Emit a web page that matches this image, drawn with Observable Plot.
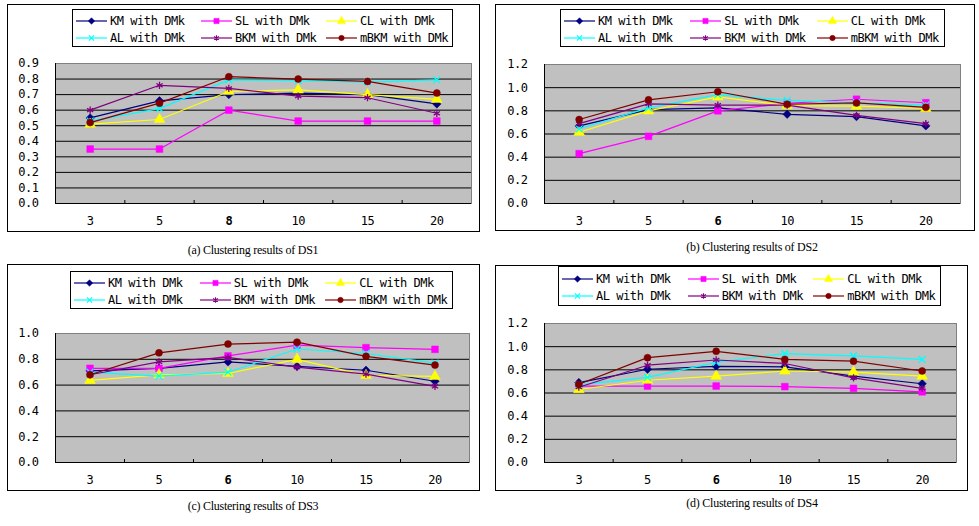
<!DOCTYPE html>
<html><head><meta charset="utf-8">
<script src="https://cdn.jsdelivr.net/npm/d3@7"></script>
<script src="https://cdn.jsdelivr.net/npm/@observablehq/plot@0.6"></script>
<style>
body{margin:0;background:#fff;width:979px;height:526px;position:relative;overflow:hidden;font-family:"DejaVu Sans Mono",monospace;}
.frame{position:absolute;border:1px solid #000;box-sizing:border-box;}
.legend{position:absolute;border:1px solid #000;background:#fff;box-sizing:border-box;}
.item{position:absolute;display:flex;align-items:center;font-size:12px;letter-spacing:-0.45px;white-space:nowrap;height:12px;}
.item svg{margin-right:3px;}
.caption{position:absolute;font-family:"Liberation Serif","Times New Roman",serif;font-size:12px;letter-spacing:-0.25px;transform:translateX(-50%);white-space:nowrap;line-height:14px;}
.plotwrap{position:absolute;}
.plotwrap text{letter-spacing:-0.45px;}
</style></head><body>
<script>
// ---- series definitions ----
const seriesNames = ["KM with DMk","SL with DMk","CL with DMk","AL with DMk","BKM with DMk","mBKM with DMk"];
const seriesColors = ["#000080","#ff00ff","#ffff00","#00ffff","#800080","#800000"];
const seriesSymbols = ["diamond2","square","triangle","times","asterisk","circle"];
const seriesFilled = [true,true,true,false,false,true];

// ---- categories ----
const catsDS1 = ["3","5","8","10","15","20"];
const catsDS2 = ["3","5","6","10","15","20"];
const catsDS3 = ["3","5","6","10","15","20"];
const catsDS4 = ["3","5","6","10","15","20"];
const boldDS1 = "8", boldDS2 = "6", boldDS3 = "6", boldDS4 = "6";

// ---- y ticks ----
const yTicksDS1 = [0,0.1,0.2,0.3,0.4,0.5,0.6,0.7,0.8,0.9];
const yTicksDS2 = [0,0.2,0.4,0.6,0.8,1.0,1.2];
const yTicksDS3 = [0,0.2,0.4,0.6,0.8,1.0];
const yTicksDS4 = [0,0.2,0.4,0.6,0.8,1.0,1.2];

// ---- DS1 values ----
const ds1KM   = [0.55,0.66,0.70,0.71,0.70,0.64];
const ds1SL   = [0.35,0.35,0.60,0.53,0.53,0.53];
const ds1CL   = [0.51,0.54,0.72,0.73,0.70,0.67];
const ds1AL   = [0.53,0.61,0.795,0.79,0.78,0.795];
const ds1BKM  = [0.60,0.76,0.74,0.69,0.68,0.58];
const ds1mBKM = [0.52,0.645,0.815,0.80,0.785,0.71];

// ---- DS2 values ----
const ds2KM   = [0.67,0.81,0.825,0.77,0.75,0.67];
const ds2SL   = [0.43,0.58,0.80,0.865,0.90,0.87];
const ds2CL   = [0.615,0.80,0.92,0.845,0.84,0.82];
const ds2AL   = [0.645,0.825,0.94,0.89,0.87,0.85];
const ds2BKM  = [0.69,0.86,0.85,0.85,0.76,0.69];
const ds2mBKM = [0.725,0.895,0.965,0.857,0.868,0.83];

// ---- DS3 values ----
const ds3KM   = [0.71,0.73,0.78,0.745,0.715,0.63];
const ds3SL   = [0.73,0.73,0.826,0.91,0.89,0.877];
const ds3CL   = [0.637,0.68,0.69,0.80,0.675,0.667];
const ds3AL   = [0.70,0.67,0.70,0.88,0.845,0.77];
const ds3BKM  = [0.68,0.78,0.815,0.74,0.685,0.59];
const ds3mBKM = [0.68,0.85,0.918,0.933,0.823,0.755];

// ---- DS4 values ----
const ds4KM   = [0.69,0.805,0.83,0.826,0.745,0.68];
const ds4SL   = [0.66,0.66,0.66,0.655,0.64,0.61];
const ds4CL   = [0.63,0.71,0.745,0.79,0.78,0.745];
const ds4AL   = [0.67,0.735,0.865,0.94,0.92,0.89];
const ds4BKM  = [0.65,0.84,0.885,0.855,0.73,0.64];
const ds4mBKM = [0.675,0.905,0.96,0.89,0.875,0.79];

// ---- layout (page px) ----
const panels = [
  {cats:catsDS1, bold:boldDS1, yTicks:yTicksDS1, series:[ds1KM,ds1SL,ds1CL,ds1AL,ds1BKM,ds1mBKM],
   frame:[7,4,479,231], plot:[55,63,471,203], legend:[72,9,453,47], caption:[253,250], text:"(a) Clustering results of DS1"},
  {cats:catsDS2, bold:boldDS2, yTicks:yTicksDS2, series:[ds2KM,ds2SL,ds2CL,ds2AL,ds2BKM,ds2mBKM],
   frame:[495,4,974,230], plot:[544,64,960,203], legend:[560,9,945,47], caption:[752,247], text:"(b) Clustering results of DS2"},
  {cats:catsDS3, bold:boldDS3, yTicks:yTicksDS3, series:[ds3KM,ds3SL,ds3CL,ds3AL,ds3BKM,ds3mBKM],
   frame:[7,264,479,490], plot:[55,333,469,462], legend:[70,271,453,309], caption:[253,506], text:"(c) Clustering results of DS3"},
  {cats:catsDS4, bold:boldDS4, yTicks:yTicksDS4, series:[ds4KM,ds4SL,ds4CL,ds4AL,ds4BKM,ds4mBKM],
   frame:[495,265,967,490], plot:[544,323,956,462], legend:[558,266,941,306], caption:[752,503], text:"(d) Clustering results of DS4"}
];

const d3sym = {diamond2:d3.symbolDiamond2, square:d3.symbolSquare, triangle:d3.symbolTriangle,
               times:d3.symbolTimes, asterisk:d3.symbolAsterisk, circle:d3.symbolCircle};
const symR = [3.8,3.8,4,3.2,3.4,3.5];

function el(tag, cls, parent){const e=document.createElement(tag); if(cls) e.className=cls; (parent||document.body).appendChild(e); return e;}

panels.forEach(p => {
  const [fl,ft,fr,fb] = p.frame, [pl,pt,pr,pb] = p.plot;
  const frame = el("div","frame");
  Object.assign(frame.style,{left:fl+"px",top:ft+"px",width:(fr-fl+1)+"px",height:(fb-ft+1)+"px"});

  const n = p.cats.length;
  const yMax = p.yTicks[p.yTicks.length-1];
  const idx = d3.range(n);
  const bounds = d3.range(n-1).map(i => i+0.5);
  const marks = [
    Plot.frame({fill:"#c0c0c0", stroke:"#808080"}),
    Plot.gridY(p.yTicks.filter(t => t>0 && t<yMax), {stroke:"#000", strokeOpacity:1}),
    Plot.ruleY([0], {stroke:"#000"}),
    Plot.ruleX([-0.5], {stroke:"#000"}),
    Plot.axisY({ticks:p.yTicks, tickSize:0, tickPadding:17, tickFormat:d3.format(".1f"), label:null, fontSize:12}),
    Plot.axisX({ticks:idx, tickSize:0, tickPadding:13, tickFormat:i => p.cats[i], label:null, fontSize:12}),
    Plot.axisX({ticks:bounds, tickSize:-3, tickFormat:() => "", label:null})
  ];
  p.series.forEach((vals, s) => {
    const data = vals.map((v,i) => ({i, v}));
    marks.push(Plot.line(data, {x:"i", y:"v", stroke:seriesColors[s], strokeWidth:1.2}));
    marks.push(Plot.dot(data, {x:"i", y:"v", symbol:seriesSymbols[s], r:symR[s],
      fill: seriesFilled[s] ? seriesColors[s] : "none",
      stroke: seriesColors[s], strokeWidth: seriesFilled[s] ? 0.5 : 1.3}));
  });
  const chart = Plot.plot({
    width: fr-fl, height: fb-ft,
    marginLeft: pl-fl, marginRight: fr-pr, marginTop: pt-ft, marginBottom: fb-pb,
    x:{domain:[-0.5, n-0.5], label:null},
    y:{domain:[0, yMax], label:null},
    style:{fontFamily:"'DejaVu Sans Mono', monospace", fontSize:"12px", color:"#000", background:"transparent", overflow:"visible"},
    marks
  });
  d3.select(chart).selectAll("text").filter(function(){return this.textContent === p.bold;}).attr("font-weight","bold");
  const wrap = el("div","plotwrap");
  Object.assign(wrap.style,{left:fl+"px",top:ft+"px"});
  wrap.appendChild(chart);

  // legend
  const [ll,lt,lr,lb] = p.legend;
  const lg = el("div","legend");
  Object.assign(lg.style,{left:ll+"px",top:lt+"px",width:(lr-ll)+"px",height:(lb-lt)+"px"});
  const colW = (lr-ll-6)/3, h = lb-lt;
  seriesNames.forEach((name, s) => {
    const col = s%3, row = Math.floor(s/3);
    const it = el("div","item",lg);
    const cy = h*(row===0 ? 0.32 : 0.76);
    Object.assign(it.style,{left:(3+col*colW)+"px", top:(cy-7)+"px"});
    const sv = d3.select(it).append("svg").attr("width",31).attr("height",12);
    sv.append("line").attr("x1",0).attr("x2",31).attr("y1",6).attr("y2",6).attr("stroke",seriesColors[s]).attr("stroke-width",1.2);
    sv.append("path").attr("transform","translate(15.5,6)")
      .attr("d", d3.symbol(d3sym[seriesSymbols[s]], Math.PI*symR[s]*symR[s]*0.6)())
      .attr("fill", seriesFilled[s] ? seriesColors[s] : "none")
      .attr("stroke", seriesColors[s]).attr("stroke-width", seriesFilled[s]?0.5:1.1);
    d3.select(it).append("span").text(name);
  });

  const cap = el("div","caption");
  cap.textContent = p.text;
  Object.assign(cap.style,{left:p.caption[0]+"px", top:(p.caption[1]-7)+"px"});
});
</script>
</body></html>
